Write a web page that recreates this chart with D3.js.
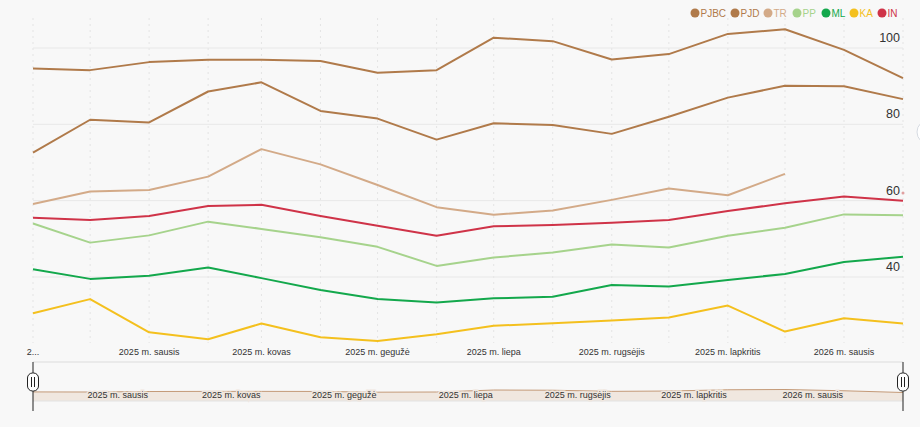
<!DOCTYPE html>
<html>
<head>
<meta charset="utf-8">
<script src="https://cdn.jsdelivr.net/npm/d3@7"></script>
<style>
  html, body { margin: 0; padding: 0; background: #f8f8f8; }
  svg { display: block; font-family: "Liberation Sans", Arial, sans-serif; }
</style>
</head>
<body>
<div id="chart"></div>
<script>
// Monthly dates of the survey points
const months = ["2024-11", "2024-12", "2025-01", "2025-02", "2025-03", "2025-04", "2025-05", "2025-06",
                "2025-07", "2025-08", "2025-09", "2025-10", "2025-11", "2025-12", "2026-01", "2026-02"];

// Series values (null = no value)
const pjbc = [94.6, 94.2, 96.3, 96.9, 96.9, 96.6, 93.5, 94.2, 102.7, 101.8, 97.0, 98.4, 103.7, 104.9, 99.5, 92.1];
const pjd  = [72.6, 81.2, 80.5, 88.6, 91.0, 83.5, 81.5, 76.0, 80.3, 79.8, 77.5, 82.0, 87.0, 90.1, 90.0, 86.6];
const tr   = [59.1, 62.4, 62.8, 66.3, 73.5, 69.5, 64.1, 58.3, 56.3, 57.4, 60.2, 63.2, 61.4, 67.0, null, 62.0];
const pp   = [54.0, 49.0, 50.9, 54.5, 52.6, 50.4, 47.9, 42.9, 45.1, 46.4, 48.5, 47.7, 50.8, 52.9, 56.4, 56.2];
const ml   = [42.0, 39.5, 40.3, 42.5, 39.7, 36.6, 34.2, 33.3, 34.4, 34.8, 37.9, 37.5, 39.2, 40.8, 43.9, 45.3];
const ka   = [30.5, 34.2, 25.5, 23.7, 27.8, 24.2, 23.2, 25.0, 27.2, 27.9, 28.6, 29.4, 32.5, 25.7, 29.2, 27.8];
const inn  = [55.5, 54.9, 56.0, 58.6, 58.9, 56.0, 53.4, 50.8, 53.3, 53.6, 54.2, 54.9, 57.3, 59.3, 61.1, 60.0];

const seriesNames = ["PJBC", "PJD", "TR", "PP", "ML", "KA", "IN"];
const seriesColors = ["#b07a4a", "#b07a4a", "#d3aa88", "#a6d38c", "#13a84c", "#f4c01e", "#cf3348"];
const seriesValues = [pjbc, pjd, tr, pp, ml, ka, inn];

const yTicks = [40, 60, 80, 100];
// x-axis labels every second month
const tickMonths = ["2024-11", "2025-01", "2025-03", "2025-05", "2025-07", "2025-09", "2025-11", "2026-01"];
const tickLabels = ["2...", "2025 m. sausis", "2025 m. kovas", "2025 m. gegužė", "2025 m. liepa",
                    "2025 m. rugsėjis", "2025 m. lapkritis", "2026 m. sausis"];

const W = 920, H = 427;
const parse = d3.timeParse("%Y-%m");
const dates = months.map(parse);

const svg = d3.select("#chart").append("svg")
    .attr("width", W)
    .attr("height", H);

svg.append("rect").attr("width", W).attr("height", H).attr("fill", "#f8f8f8");

// Scales
const x = d3.scaleTime()
    .domain([dates[0], dates[dates.length - 1]])
    .range([33, 903]);

const y = d3.scaleLinear()
    .domain([20, 100])
    .range([353.3, 48]);

// Vertical dotted gridlines at every month
svg.append("g")
    .selectAll("line")
    .data(dates)
    .join("line")
    .attr("x1", d => x(d)).attr("x2", d => x(d))
    .attr("y1", 18).attr("y2", 343)
    .attr("stroke", "#e4e4e4")
    .attr("stroke-dasharray", "2,4");

// Horizontal gridlines + labels on the right
const yAxis = svg.append("g");
yAxis.selectAll("line")
    .data(yTicks)
    .join("line")
    .attr("x1", 33).attr("x2", 903)
    .attr("y1", d => y(d)).attr("y2", d => y(d))
    .attr("stroke", "#e8e8e8");

yAxis.selectAll("text")
    .data(yTicks)
    .join("text")
    .attr("x", 900)
    .attr("y", d => y(d) - 6)
    .attr("text-anchor", "end")
    .attr("font-size", 12.5)
    .attr("fill", "#333")
    .text(d => d);

// Lines
const line = d3.line()
    .defined(d => d.v !== null)
    .x(d => x(d.date))
    .y(d => y(d.v));

seriesValues.forEach((vals, i) => {
    const pts = vals.map((v, j) => ({ date: dates[j], v: v }));
    svg.append("path")
        .datum(pts)
        .attr("fill", "none")
        .attr("stroke", seriesColors[i])
        .attr("stroke-width", 2)
        .attr("stroke-linejoin", "round")
        .attr("d", line);

    // isolated points get a tiny marker
    const lone = pts.filter((p, j) => p.v !== null &&
        (j === 0 || vals[j - 1] === null) && (j === vals.length - 1 || vals[j + 1] === null));
    svg.selectAll(null)
        .data(lone)
        .join("circle")
        .attr("cx", d => x(d.date))
        .attr("cy", d => y(d.v))
        .attr("r", 1.5)
        .attr("fill", "#e0a0a0");
});

// X axis labels
svg.append("g")
    .selectAll("text")
    .data(tickMonths)
    .join("text")
    .attr("x", d => x(parse(d)))
    .attr("y", 355)
    .attr("text-anchor", "middle")
    .attr("font-size", 9)
    .attr("fill", "#333")
    .text((d, i) => tickLabels[i]);

// Navigator
const navTop = 362, navBottom = 401;
svg.append("line")
    .attr("x1", 33).attr("x2", 903)
    .attr("y1", navTop).attr("y2", navTop)
    .attr("stroke", "#dcdcdc");

const yNav = d3.scaleLinear()
    .domain(d3.extent(pjbc))
    .range([392.5, 389.5]);

const navPts = pjbc.map((v, j) => ({ date: dates[j], v: v }));
svg.append("path")
    .datum(navPts)
    .attr("fill", "#f0e7df")
    .attr("d", d3.area().x(d => x(d.date)).y0(navBottom).y1(d => yNav(d.v)));
svg.append("path")
    .datum(navPts)
    .attr("fill", "none")
    .attr("stroke", "#c49a78")
    .attr("stroke-width", 1)
    .attr("d", d3.line().x(d => x(d.date)).y(d => yNav(d.v)));

svg.append("line")
    .attr("x1", 33).attr("x2", 903)
    .attr("y1", navBottom).attr("y2", navBottom)
    .attr("stroke", "#e2e2e2");

svg.append("g")
    .selectAll("text")
    .data(tickMonths.slice(1))
    .join("text")
    .attr("x", d => x(parse(d)) - 1)
    .attr("y", 398)
    .attr("text-anchor", "end")
    .attr("font-size", 9)
    .attr("fill", "#333")
    .attr("stroke", "#f0e7df")
    .attr("stroke-width", 3)
    .attr("paint-order", "stroke")
    .text((d, i) => tickLabels[i + 1]);

// Navigator handles
[33, 903].forEach(hx => {
    const h = svg.append("g");
    h.append("line")
        .attr("x1", hx).attr("x2", hx)
        .attr("y1", navTop).attr("y2", navBottom + 10)
        .attr("stroke", "#222").attr("stroke-width", 1);
    h.append("rect")
        .attr("x", hx - 5.5).attr("y", 373)
        .attr("width", 11).attr("height", 18)
        .attr("rx", 5).attr("ry", 5)
        .attr("fill", "#fff").attr("stroke", "#222");
    [-1.5, 1.5].forEach(dx => {
        h.append("line")
            .attr("x1", hx + dx).attr("x2", hx + dx)
            .attr("y1", 377).attr("y2", 387)
            .attr("stroke", "#222");
    });
});

// Side button peeking in at the right edge
svg.append("circle")
    .attr("cx", 929).attr("cy", 132).attr("r", 12)
    .attr("fill", "#fff").attr("stroke", "#d6dbe2");

// Legend
const legendX = [695, 735, 768, 797, 826, 854, 882];
const legend = svg.append("g");
seriesNames.forEach((name, i) => {
    legend.append("circle")
        .attr("cx", legendX[i]).attr("cy", 13).attr("r", 4.5)
        .attr("fill", seriesColors[i]);
    legend.append("text")
        .attr("x", legendX[i] + 5.5).attr("y", 16.5)
        .attr("font-size", 10)
        .attr("fill", seriesColors[i])
        .text(name);
});
</script>
</body>
</html>
